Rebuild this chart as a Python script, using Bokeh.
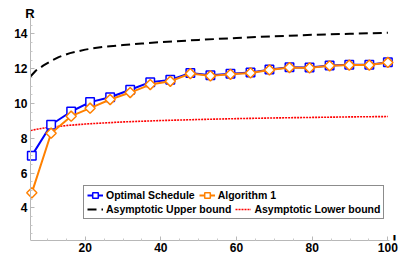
from bokeh.plotting import figure
from bokeh.models import Range1d, FixedTicker, Legend, LegendItem, Label
from bokeh.embed import file_html
from bokeh.resources import INLINE

# ---- data ----
L = [5.9, 11.0, 16.3, 21.3, 26.6, 31.9, 37.2, 42.5, 47.8, 53.1, 58.4, 63.7, 68.7, 74.0, 79.3, 84.6, 89.8, 95.1, 100.0]
optimal = [7.0, 8.78, 9.54, 10.08, 10.36, 10.79, 11.23, 11.36, 11.76, 11.63, 11.71, 11.79, 11.95, 12.09, 12.07, 12.19, 12.23, 12.23, 12.38]
algo1 = [4.86, 8.29, 9.27, 9.73, 10.23, 10.63, 11.09, 11.28, 11.72, 11.59, 11.68, 11.76, 11.93, 12.07, 12.05, 12.17, 12.21, 12.21, 12.36]

ub_L = [5.6, 7, 9, 11, 13, 16, 20, 25, 30, 35, 40, 50, 60, 70, 80, 90, 100]
ub_R = [11.57, 11.9, 12.19, 12.45, 12.67, 12.9, 13.1, 13.27, 13.36, 13.45, 13.53, 13.66, 13.77, 13.87, 13.95, 14.01, 14.07]

lb_L = [5.6, 8, 10, 15, 20, 30, 40, 50, 60, 70, 80, 90, 100]
lb_R = [8.45, 8.55, 8.62, 8.73, 8.82, 8.94, 9.02, 9.08, 9.13, 9.17, 9.20, 9.23, 9.25]

series_labels = ["Optimal Schedule", "Algorithm 1", "Asymptotic Upper bound", "Asymptotic Lower bound"]

x_ticks = [20, 40, 60, 80, 100]
x_minor = [10, 15, 25, 30, 35, 45, 50, 55, 65, 70, 75, 85, 90, 95]
y_ticks = [4, 6, 8, 10, 12, 14]
y_minor = [2.5, 3, 3.5, 4.5, 5, 5.5, 6.5, 7, 7.5, 8.5, 9, 9.5, 10.5, 11, 11.5, 12.5, 13, 13.5, 14.5]

X_START, X_END = 5.56, 100.5
Y_START, Y_END = 2.118, 15.064

FONT = "Liberation Sans"
BLUE = "#0000ff"
ORANGE = "#ff8000"

# frame spans canvas x 6..410, y 3..240; axes drawn only over the reference's range
p = figure(width=415, height=257, output_backend="svg", toolbar_location=None,
           x_range=Range1d(-0.789, 105.98), y_range=Range1d(Y_START, 15.754),
           min_border_left=6, min_border_right=5, min_border_top=3, min_border_bottom=17)
p.xgrid.visible = False
p.ygrid.visible = False
p.outline_line_color = None
p.background_fill_color = "white"
p.border_fill_color = "white"

for ax, tk, mn in ((p.xaxis[0], x_ticks, x_minor), (p.yaxis[0], y_ticks, y_minor)):
    ax.ticker = FixedTicker(ticks=tk, minor_ticks=mn)
    ax.axis_line_color = "#b8b8b8"
    ax.axis_line_width = 1
    ax.major_tick_line_color = "#b8b8b8"
    ax.minor_tick_line_color = "#c8c8c8"
    ax.major_tick_in = 4
    ax.major_tick_out = 0
    ax.minor_tick_in = 2
    ax.minor_tick_out = 0
    ax.major_label_text_font = FONT
    ax.major_label_text_font_style = "bold"
    ax.major_label_text_font_size = "12px"
    ax.major_label_text_color = "black"
p.xaxis[0].bounds = (X_START, X_END)
p.yaxis[0].bounds = (Y_START, Y_END)
p.yaxis[0].fixed_location = X_START
p.xaxis[0].major_label_standoff = 2
p.yaxis[0].major_label_standoff = 3

# bounds
ub = p.line(ub_L, ub_R, line_color="black", line_width=2, line_dash="9 5")
lb = p.line(lb_L, lb_R, line_color="#ff0000", line_width=1.6, line_dash="2 1")

# series
bl = p.line(L, optimal, line_color=BLUE, line_width=2)
bs = p.scatter(L, optimal, marker="square", size=8.5, line_color=BLUE, line_width=1.5, fill_color="white")
ol = p.line(L, algo1, line_color=ORANGE, line_width=2)
od = p.scatter(L, algo1, marker="square", angle=0.785398, size=7.2, line_color=ORANGE, line_width=1.5, fill_color="white")

# invisible renderer used only to give the legend frame a body
frame_r = p.line([], [], line_alpha=0)

# legend frame: a bordered legend with one empty item, sized to enclose both rows
# (locations are relative to the frame: x from left=6, y up from bottom=240)
leg_frame = Legend(items=[LegendItem(label=" ", renderers=[frame_r])], location=(77, 21),
                   orientation="horizontal", padding=0, margin=0, spacing=0, label_standoff=0,
                   glyph_width=299, glyph_height=32, label_height=1, label_width=0,
                   label_text_font_size="1px",
                   border_line_color="#8c8c8c", border_line_width=1, border_line_alpha=1,
                   background_fill_color="white", background_fill_alpha=1)
p.add_layout(leg_frame)

def make_legend(items, loc):
    return Legend(items=items, location=loc, orientation="horizontal",
                  padding=0, margin=0, spacing=4, label_standoff=3,
                  glyph_width=16, glyph_height=14, label_height=14,
                  border_line_alpha=0, background_fill_alpha=0,
                  label_text_font=FONT, label_text_font_style="bold",
                  label_text_font_size="10.5px", label_text_color="black")

leg1 = make_legend([LegendItem(label=series_labels[0], renderers=[bl, bs]),
                    LegendItem(label=series_labels[1], renderers=[ol, od])], (81, 38))
leg2 = make_legend([LegendItem(label=series_labels[2], renderers=[ub]),
                    LegendItem(label=series_labels[3], renderers=[lb])], (81, 24))
p.add_layout(leg1)
p.add_layout(leg2)

# axis name labels (canvas pixels)
p.add_layout(Label(x=29.5, y=12.5, x_units="canvas", y_units="canvas", text="R",
                   text_font=FONT, text_font_style="bold", text_font_size="13px",
                   text_align="center", text_baseline="alphabetic", text_color="black"))
p.add_layout(Label(x=392, y=239.5, x_units="canvas", y_units="canvas", text="L",
                   text_font=FONT, text_font_style="bold", text_font_size="14px",
                   text_align="left", text_baseline="alphabetic", text_color="black"))

open("out.html", "w").write(file_html(p, INLINE))
